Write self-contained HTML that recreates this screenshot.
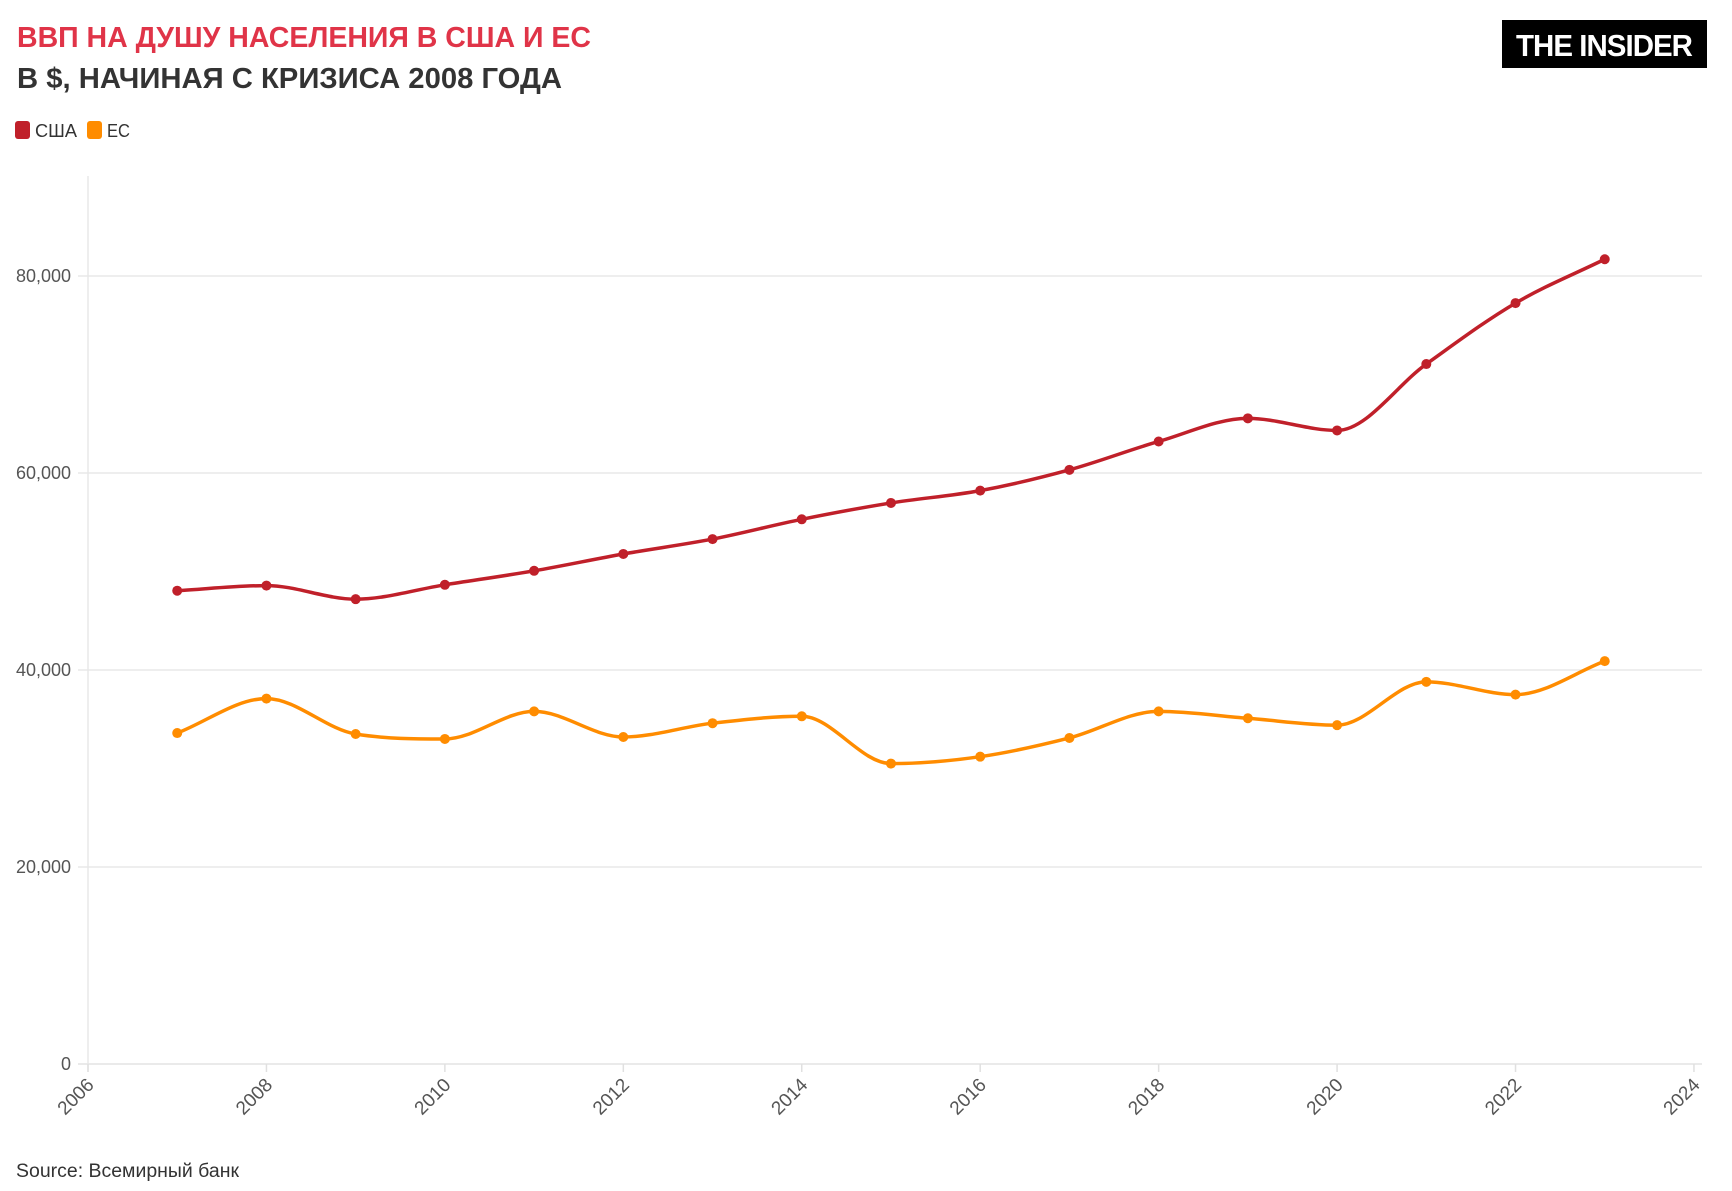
<!DOCTYPE html>
<html><head><meta charset="utf-8"><style>
html,body{margin:0;padding:0;background:#fff;}
svg{display:block;font-family:"Liberation Sans",sans-serif;}
</style></head><body>
<svg id="s" width="1732" height="1191" viewBox="0 0 1732 1191" xmlns="http://www.w3.org/2000/svg">
<rect width="1732" height="1191" fill="#fff"/>
<text x="17" y="47" font-size="29" font-weight="bold" fill="#e03448" textLength="574" lengthAdjust="spacingAndGlyphs">ВВП НА ДУШУ НАСЕЛЕНИЯ В США И ЕС</text>
<text x="17" y="88" font-size="29" font-weight="bold" fill="#333" textLength="545" lengthAdjust="spacingAndGlyphs">В $, НАЧИНАЯ С КРИЗИСА 2008 ГОДА</text>
<rect x="15" y="121" width="15" height="18" rx="3" fill="#c0202a"/>
<text x="35" y="137" font-size="18" fill="#333" textLength="42" lengthAdjust="spacingAndGlyphs">США</text>
<rect x="87" y="121" width="15" height="18" rx="3" fill="#ff8c00"/>
<text x="107" y="137" font-size="18" fill="#333" textLength="23" lengthAdjust="spacingAndGlyphs">ЕС</text>
<rect x="1502" y="20" width="205" height="48" fill="#000"/>
<text x="1604" y="56" font-size="31" font-weight="bold" fill="#fff" text-anchor="middle" textLength="176" lengthAdjust="spacingAndGlyphs" letter-spacing="-1">THE INSIDER</text>
<text x="16" y="1177" font-size="19" fill="#333" textLength="223" lengthAdjust="spacingAndGlyphs">Source: Всемирный банк</text>
<g id="g"></g>
</svg>
<script>
const g=document.getElementById('g');const NS='http://www.w3.org/2000/svg';
function el(t,a,txt){const e=document.createElementNS(NS,t);for(const k in a)e.setAttribute(k,a[k]);if(txt!==undefined)e.textContent=txt;g.appendChild(e);return e;}
const X=y=>88+(y-2006)*89.22, Y=v=>1064-v*0.00985;
for(let v=20000;v<=80000;v+=20000)el('line',{x1:78,x2:1702,y1:Y(v),y2:Y(v),stroke:'#e8e8e8','stroke-width':1.5});
el('line',{x1:78,x2:1702,y1:1064,y2:1064,stroke:'#e3e3e3','stroke-width':1.5});
el('line',{x1:88,x2:88,y1:176,y2:1072,stroke:'#e8e8e8','stroke-width':1.5});
for(let v=0;v<=80000;v+=20000)el('text',{x:71,y:Y(v)+6,'font-size':18,fill:'#555','text-anchor':'end'},v?v.toLocaleString('en-US'):'0');
for(let yr=2006;yr<=2024;yr+=2){const x=X(yr);el('line',{x1:x,x2:x,y1:1064,y2:1072,stroke:'#e0e0e0','stroke-width':1.5});
el('text',{x:x+7,y:1086,'font-size':19,fill:'#555','text-anchor':'end',transform:`rotate(-45 ${x+7} 1086)`},yr);}
const us=[48050,48570,47190,48650,50070,51780,53290,55300,56960,58210,60320,63200,65550,64320,71060,77250,81700];
const eu=[33600,37100,33500,33000,35800,33200,34600,35300,30500,31200,33100,35800,35100,34400,38800,37500,40900];
function draw(d,c){const p=d.map((v,i)=>[X(2007+i),Y(v)]);
const n=p.length,dx=[],s=[],m=[];for(let i=0;i<n-1;i++){dx[i]=p[i+1][0]-p[i][0];s[i]=(p[i+1][1]-p[i][1])/dx[i];}
m[0]=s[0];m[n-1]=s[n-2];for(let i=1;i<n-1;i++){m[i]=s[i-1]*s[i]<=0?0:(s[i-1]+s[i])/2;const a=m[i]/s[i-1],b=m[i]/s[i];const h=a*a+b*b;if(h>9){const t=3/Math.sqrt(h);m[i]=t*a*s[i-1];}}
let D=`M${p[0][0]},${p[0][1]}`;for(let i=0;i<n-1;i++){const h=dx[i]/3;D+=`C${p[i][0]+h},${p[i][1]+m[i]*h} ${p[i+1][0]-h},${p[i+1][1]-m[i+1]*h} ${p[i+1][0]},${p[i+1][1]}`;}
el('path',{d:D,fill:'none',stroke:c,'stroke-width':3.5});p.forEach(q=>el('circle',{cx:q[0],cy:q[1],r:5,fill:c}));}
draw(us,'#c0202a');draw(eu,'#ff8c00');
</script>
</body></html>
